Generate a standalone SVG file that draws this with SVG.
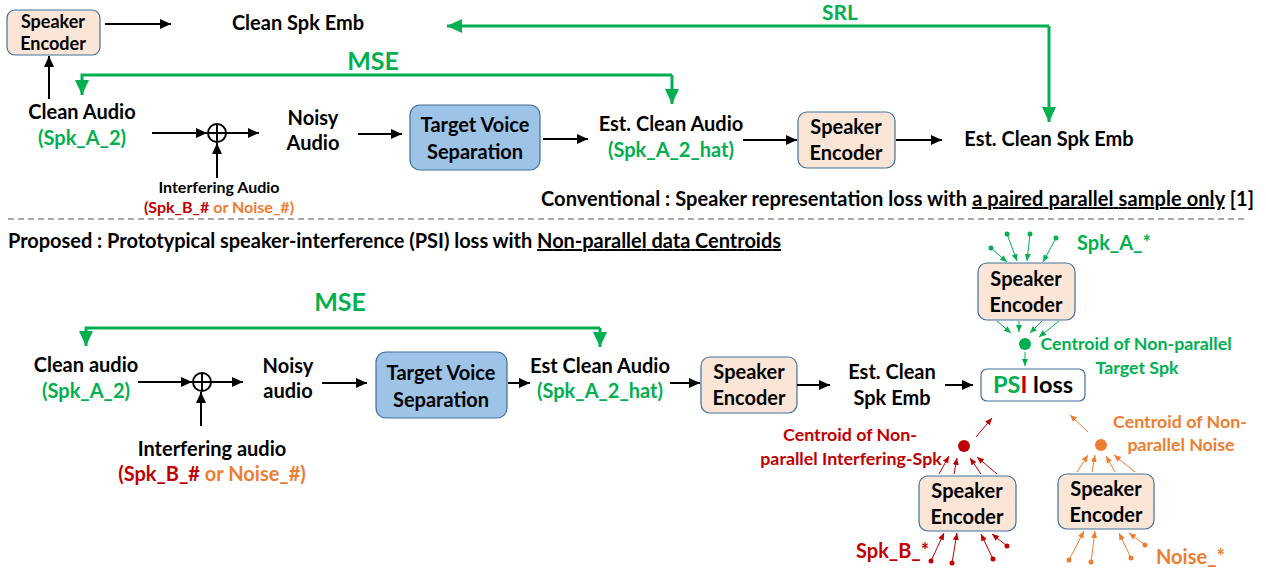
<svg xmlns="http://www.w3.org/2000/svg" width="1266" height="574" viewBox="0 0 1266 574">
<style>
text{font-family:Lato,"Open Sans","Liberation Sans",sans-serif;font-weight:bold;fill:#000}
.t18{font-size:20px}
.t14{font-size:16px}
.t16{font-size:17.8px}
.te{font-size:18px}
.c{text-anchor:middle}
.g{fill:#00B050}
.r{fill:#C00000}
.o{fill:#ED7D31}
.enc{fill:#FBE5D6;stroke:#41719C;stroke-width:1.2}
.tvs{fill:#9DC3E6;stroke:#41719C;stroke-width:1.2}
.blk{stroke:#000;stroke-width:2;fill:none;marker-end:url(#ab)}
.grn{stroke:#00B050;stroke-width:3;fill:none;marker-end:url(#ag)}
.sg{stroke:#00B050;stroke-width:1;fill:none;marker-end:url(#sg)}
.sr{stroke:#C00000;stroke-width:1;fill:none;marker-end:url(#sr)}
.so{stroke:#ED7D31;stroke-width:1;fill:none;marker-end:url(#so)}
</style>
<defs>
<marker id="ab" markerUnits="userSpaceOnUse" markerWidth="12" markerHeight="12" refX="11" refY="6" orient="auto"><path d="M0,1 L11,6 L0,11 Z" fill="#000"/></marker>
<marker id="ag" markerUnits="userSpaceOnUse" markerWidth="16" markerHeight="16" refX="15" refY="8" orient="auto"><path d="M0,1 L15,8 L0,15 Z" fill="#00B050"/></marker>
<marker id="sg" markerUnits="userSpaceOnUse" markerWidth="8" markerHeight="8" refX="7" refY="4" orient="auto"><path d="M0,1 L7,4 L0,7 Z" fill="#00B050"/></marker>
<marker id="sr" markerUnits="userSpaceOnUse" markerWidth="8" markerHeight="8" refX="7" refY="4" orient="auto"><path d="M0,1 L7,4 L0,7 Z" fill="#C00000"/></marker>
<marker id="so" markerUnits="userSpaceOnUse" markerWidth="8" markerHeight="8" refX="7" refY="4" orient="auto"><path d="M0,1 L7,4 L0,7 Z" fill="#ED7D31"/></marker>
</defs>
<rect width="1266" height="574" fill="#fff"/>

<!-- ===== Top: conventional ===== -->
<g id="top-enc1"><rect class="enc" x="7" y="10" width="93" height="45" rx="8"/><text class="te c" x="53" y="28">Speaker</text><text class="te c" x="53" y="50">Encoder</text></g>
<g id="top-cleanemb"><text class="t18 c" x="298" y="30">Clean Spk Emb</text></g>
<g id="top-srl-label"><text class="c g" x="840" y="20" font-size="21">SRL</text></g>
<g id="top-mse-label"><text class="c g" x="373" y="70" font-size="25">MSE</text></g>
<g id="top-clean"><text class="t18 c" x="82" y="119">Clean Audio</text><text class="t18 c g" x="82" y="145">(Spk_A_2)</text></g>
<g id="top-sum"><circle cx="217" cy="133" r="9" fill="none" stroke="#000" stroke-width="2"/><line x1="208" y1="133" x2="226" y2="133" stroke="#000" stroke-width="2"/><line x1="217" y1="124" x2="217" y2="142" stroke="#000" stroke-width="2"/></g>
<g id="top-interf"><text class="t14 c" x="219" y="193">Interfering Audio</text><text class="t14 c" x="219" y="213"><tspan class="r">(Spk_B_#</tspan> <tspan class="o">or Noise_#)</tspan></text></g>
<g id="top-noisy"><text class="t18 c" x="313" y="125">Noisy</text><text class="t18 c" x="313" y="150">Audio</text></g>
<g id="top-tvs"><rect class="tvs" x="410" y="105" width="130" height="65" rx="10"/><text class="t18 c" x="475" y="132">Target Voice</text><text class="t18 c" x="475" y="159">Separation</text></g>
<g id="top-est"><text class="t18 c" x="671" y="131">Est. Clean Audio</text><text class="t18 c g" x="671" y="157">(Spk_A_2_hat)</text></g>
<g id="top-enc2"><rect class="enc" x="798" y="112" width="97" height="56" rx="9"/><text class="t18 c" x="846" y="134">Speaker</text><text class="t18 c" x="846" y="160">Encoder</text></g>
<g id="top-estemb"><text class="t18 c" x="1049" y="146">Est. Clean Spk Emb</text></g>
<g id="top-caption"><text class="t18" x="541" y="206" textLength="713" lengthAdjust="spacing">Conventional : Speaker representation loss with <tspan text-decoration="underline">a paired parallel sample only</tspan> [1]</text></g>

<line x1="8" y1="219" x2="1245" y2="219" stroke="#555" stroke-width="1" stroke-dasharray="6,4"/>

<!-- ===== Bottom: proposed ===== -->
<g id="bot-caption"><text class="t18" x="8" y="248" textLength="773" lengthAdjust="spacing">Proposed : Prototypical speaker-interference (PSI) loss with <tspan text-decoration="underline">Non-parallel data Centroids</tspan></text></g>
<g id="bot-mse-label"><text class="c g" x="340" y="311" font-size="25">MSE</text></g>
<g id="bot-clean"><text class="t18 c" x="86" y="372">Clean audio</text><text class="t18 c g" x="86" y="398">(Spk_A_2)</text></g>
<g id="bot-sum"><circle cx="202" cy="382" r="9" fill="none" stroke="#000" stroke-width="2"/><line x1="193" y1="382" x2="211" y2="382" stroke="#000" stroke-width="2"/><line x1="202" y1="373" x2="202" y2="391" stroke="#000" stroke-width="2"/></g>
<g id="bot-interf"><text class="t18 c" x="212" y="456">Interfering audio</text><text class="t18 c" x="212" y="481"><tspan class="r">(Spk_B_#</tspan> <tspan class="o">or Noise_#)</tspan></text></g>
<g id="bot-noisy"><text class="t18 c" x="288" y="373">Noisy</text><text class="t18 c" x="288" y="398">audio</text></g>
<g id="bot-tvs"><rect class="tvs" x="376" y="352" width="131" height="66" rx="10"/><text class="t18 c" x="441" y="380">Target Voice</text><text class="t18 c" x="441" y="407">Separation</text></g>
<g id="bot-est"><text class="t18 c" x="600" y="373">Est Clean Audio</text><text class="t18 c g" x="600" y="398">(Spk_A_2_hat)</text></g>
<g id="bot-enc"><rect class="enc" x="701" y="357" width="96" height="56" rx="9"/><text class="t18 c" x="749" y="379">Speaker</text><text class="t18 c" x="749" y="405">Encoder</text></g>
<g id="bot-estemb"><text class="t18 c" x="892" y="379">Est. Clean</text><text class="t18 c" x="892" y="405">Spk Emb</text></g>
<g id="psi"><rect x="981" y="369" width="104" height="32" rx="6" fill="#fff" stroke="#41719C" stroke-width="1.2"/><text class="c" x="1033" y="393" font-size="23.5"><tspan class="g">PS</tspan><tspan class="r">I</tspan> loss</text></g>

<g id="enc-a"><rect class="enc" x="978" y="263" width="97" height="57" rx="9"/><text class="t18 c" x="1026" y="286">Speaker</text><text class="t18 c" x="1026" y="312">Encoder</text></g>
<g id="spk-a-label"><text class="t18 g" x="1077" y="250">Spk_A_*</text></g>
<g id="centroid-a"><circle cx="1025" cy="344" r="6" fill="#00B050"/><text class="t16 c g" x="1136" y="350">Centroid of Non-parallel</text><text class="t16 c g" x="1137" y="374">Target Spk</text></g>

<g id="enc-b"><rect class="enc" x="919" y="476" width="97" height="55" rx="9"/><text class="t18 c" x="967" y="498">Speaker</text><text class="t18 c" x="967" y="524">Encoder</text></g>
<g id="spk-b-label"><text class="t18 r" x="856" y="558">Spk_B_*</text></g>
<g id="centroid-b"><circle cx="964" cy="446" r="6" fill="#C00000"/><text class="t16 c r" x="850" y="441">Centroid of Non-</text><text class="t16 c r" x="851" y="465">parallel Interfering-Spk</text></g>

<g id="enc-n"><rect class="enc" x="1058" y="474" width="96" height="55" rx="9"/><text class="t18 c" x="1106" y="496">Speaker</text><text class="t18 c" x="1106" y="522">Encoder</text></g>
<g id="noise-label"><text class="t18 o" x="1156" y="564">Noise_*</text></g>
<g id="centroid-n"><circle cx="1101" cy="445" r="6" fill="#ED7D31"/><text class="t16 c o" x="1180" y="428">Centroid of Non-</text><text class="t16 c o" x="1181" y="451">parallel Noise</text></g>

<g id="connectors">
<!-- top -->
<line class="blk" x1="105" y1="24" x2="171" y2="24"/>
<line class="blk" x1="49" y1="99" x2="49" y2="56"/>
<polyline class="grn" points="672,75 82,75 82,95"/>
<line class="grn" x1="672" y1="75" x2="672" y2="104"/>
<polyline class="grn" points="1049,26 1049,122"/>
<line class="grn" x1="1049" y1="26" x2="447" y2="26"/>
<line class="blk" x1="152" y1="133" x2="207" y2="133"/>
<line class="blk" x1="226" y1="133" x2="259" y2="133"/>
<line class="blk" x1="217" y1="178" x2="217" y2="143"/>
<line class="blk" x1="358" y1="134" x2="402" y2="134"/>
<line class="blk" x1="543" y1="139" x2="588" y2="139"/>
<line class="blk" x1="743" y1="140" x2="797" y2="140"/>
<line class="blk" x1="896" y1="140" x2="942" y2="140"/>
<!-- bottom -->
<polyline class="grn" points="600,328 86,328 86,346"/>
<line class="grn" x1="600" y1="328" x2="600" y2="347"/>
<line class="blk" x1="138" y1="382" x2="192" y2="382"/>
<line class="blk" x1="211" y1="382" x2="243" y2="382"/>
<line class="blk" x1="201" y1="426" x2="201" y2="392"/>
<line class="blk" x1="322" y1="383" x2="367" y2="383"/>
<line class="blk" x1="508" y1="383" x2="530" y2="383"/>
<line class="blk" x1="670" y1="383" x2="700" y2="383"/>
<line class="blk" x1="797" y1="385" x2="830" y2="385"/>
<line class="blk" x1="945" y1="385" x2="973" y2="385"/>
<!-- green centroid -->
<g fill="#00B050"><circle cx="991" cy="248" r="2.5"/><circle cx="1007" cy="234" r="2.5"/><circle cx="1030" cy="234" r="2.5"/><circle cx="1056" cy="238" r="2.5"/></g>
<line class="sg" x1="991" y1="248" x2="1007" y2="262"/>
<line class="sg" x1="1007" y1="234" x2="1017" y2="261"/>
<line class="sg" x1="1030" y1="234" x2="1027" y2="261"/>
<line class="sg" x1="1056" y1="238" x2="1043" y2="262"/>
<line class="sg" x1="997" y1="321" x2="1011" y2="333"/>
<line class="sg" x1="1019" y1="321" x2="1019" y2="332"/>
<line class="sg" x1="1042" y1="321" x2="1030" y2="333"/>
<line class="sg" x1="1059" y1="321" x2="1039" y2="337"/>
<line class="sg" x1="1025" y1="352" x2="1025" y2="366"/>
<!-- red centroid -->
<line class="sr" x1="976" y1="437" x2="992" y2="418"/>
<line class="sr" x1="939" y1="474" x2="949" y2="456"/>
<line class="sr" x1="954" y1="474" x2="957" y2="458"/>
<line class="sr" x1="981" y1="474" x2="970" y2="458"/>
<line class="sr" x1="997" y1="474" x2="977" y2="457"/>
<g fill="#C00000"><circle cx="931" cy="561" r="2.5"/><circle cx="952" cy="563" r="2.5"/><circle cx="993" cy="559" r="2.5"/><circle cx="1007" cy="546" r="2.5"/></g>
<line class="sr" x1="931" y1="561" x2="944" y2="533"/>
<line class="sr" x1="952" y1="563" x2="957" y2="533"/>
<line class="sr" x1="993" y1="559" x2="981" y2="534"/>
<line class="sr" x1="1007" y1="546" x2="992" y2="534"/>
<!-- orange centroid -->
<line class="so" x1="1088" y1="432" x2="1070" y2="415"/>
<line class="so" x1="1077" y1="472" x2="1088" y2="455"/>
<line class="so" x1="1092" y1="472" x2="1095" y2="455"/>
<line class="so" x1="1115" y1="472" x2="1106" y2="456"/>
<line class="so" x1="1135" y1="472" x2="1114" y2="455"/>
<g fill="#ED7D31"><circle cx="1069" cy="560" r="2.5"/><circle cx="1091" cy="562" r="2.5"/><circle cx="1131" cy="558" r="2.5"/><circle cx="1145" cy="545" r="2.5"/></g>
<line class="so" x1="1069" y1="560" x2="1084" y2="531"/>
<line class="so" x1="1091" y1="562" x2="1095" y2="531"/>
<line class="so" x1="1131" y1="558" x2="1119" y2="533"/>
<line class="so" x1="1145" y1="545" x2="1129" y2="533"/>
</g>
</svg>
